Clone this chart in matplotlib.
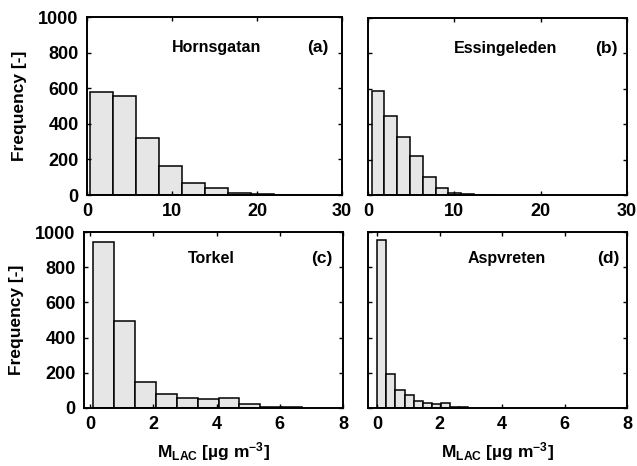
import matplotlib
matplotlib.use('Agg')
import matplotlib.pyplot as plt

plt.rcParams['font.family'] = 'Liberation Sans'
plt.rcParams['font.weight'] = 'bold'
plt.rcParams['mathtext.fontset'] = 'custom'
plt.rcParams['mathtext.rm'] = 'Liberation Sans:bold'
plt.rcParams['mathtext.bf'] = 'Liberation Sans:bold'
plt.rcParams['mathtext.default'] = 'bf'

# Histogram bins (10 bins each, MATLAB hist style)
sites = ['Hornsgatan', 'Essingeleden', 'Torkel', 'Aspvreten']
tags = ['(a)', '(b)', '(c)', '(d)']
bin_start = [0.35, 0.43, 0.10, 0.0]
bin_width = [2.71, 1.48, 0.66, 0.29]
counts_a = [580, 555, 322, 162, 66, 42, 13, 5, 2, 2]
counts_b = [590, 448, 330, 222, 103, 41, 13, 5, 2, 1]
counts_c = [945, 495, 150, 78, 55, 50, 59, 25, 8, 5]
counts_d = [955, 192, 100, 75, 40, 30, 22, 28, 5, 8]
counts = [counts_a, counts_b, counts_c, counts_d]

xlims = [(0, 30), (0, 30), (-0.2, 8), (-0.3, 8)]
xticks = [[0, 10, 20, 30], [0, 10, 20, 30], [0, 2, 4, 6, 8], [0, 2, 4, 6, 8]]
yticks = [0, 200, 400, 600, 800, 1000]

fig = plt.figure(figsize=(6.37, 4.66), dpi=100)
W, H = 637.0, 466.0
boxes = [(87, 342, 17, 195), (368, 627, 18, 195), (84, 343, 232, 408), (368, 627, 232, 408)]
name_pos = [(0.51, 0.83), (0.533, 0.83), (0.49, 0.85), (0.537, 0.85)]
tag_pos = [(0.905, 0.83), (0.92, 0.83), (0.92, 0.85), (0.927, 0.85)]

for i in range(4):
    l, r, t, b = boxes[i]
    ax = fig.add_axes([l / W, 1 - b / H, (r - l) / W, (b - t) / H])
    lefts = [bin_start[i] + k * bin_width[i] for k in range(len(counts[i]))]
    ax.bar(lefts, counts[i], width=bin_width[i], align='edge',
           color='#e6e6e6', edgecolor='black', linewidth=1.1)
    ax.set_xlim(*xlims[i])
    ax.set_ylim(0, 1000)
    ax.set_xticks(xticks[i])
    ax.set_yticks(yticks)
    ax.tick_params(direction='in', top=True, right=True, length=3, width=1,
                   labelsize=13, pad=6)
    for sp in ax.spines.values():
        sp.set_linewidth(1.4)
    if i % 2 == 1:
        ax.set_yticklabels([])
    else:
        ax.set_ylabel('Frequency [-]', fontsize=12.5, fontweight='bold', labelpad=8)
    if i >= 2:
        ax.set_xlabel(r'M$_{LAC}$ [µg m$^{-3}$]', fontsize=12.5, fontweight='bold', labelpad=5)
    ax.text(*name_pos[i], sites[i], transform=ax.transAxes, ha='center', va='center',
            fontsize=11.5, fontweight='bold')
    ax.text(*tag_pos[i], tags[i], transform=ax.transAxes, ha='center', va='center',
            fontsize=12.5, fontweight='bold')

fig.savefig('out.png', dpi=100)
